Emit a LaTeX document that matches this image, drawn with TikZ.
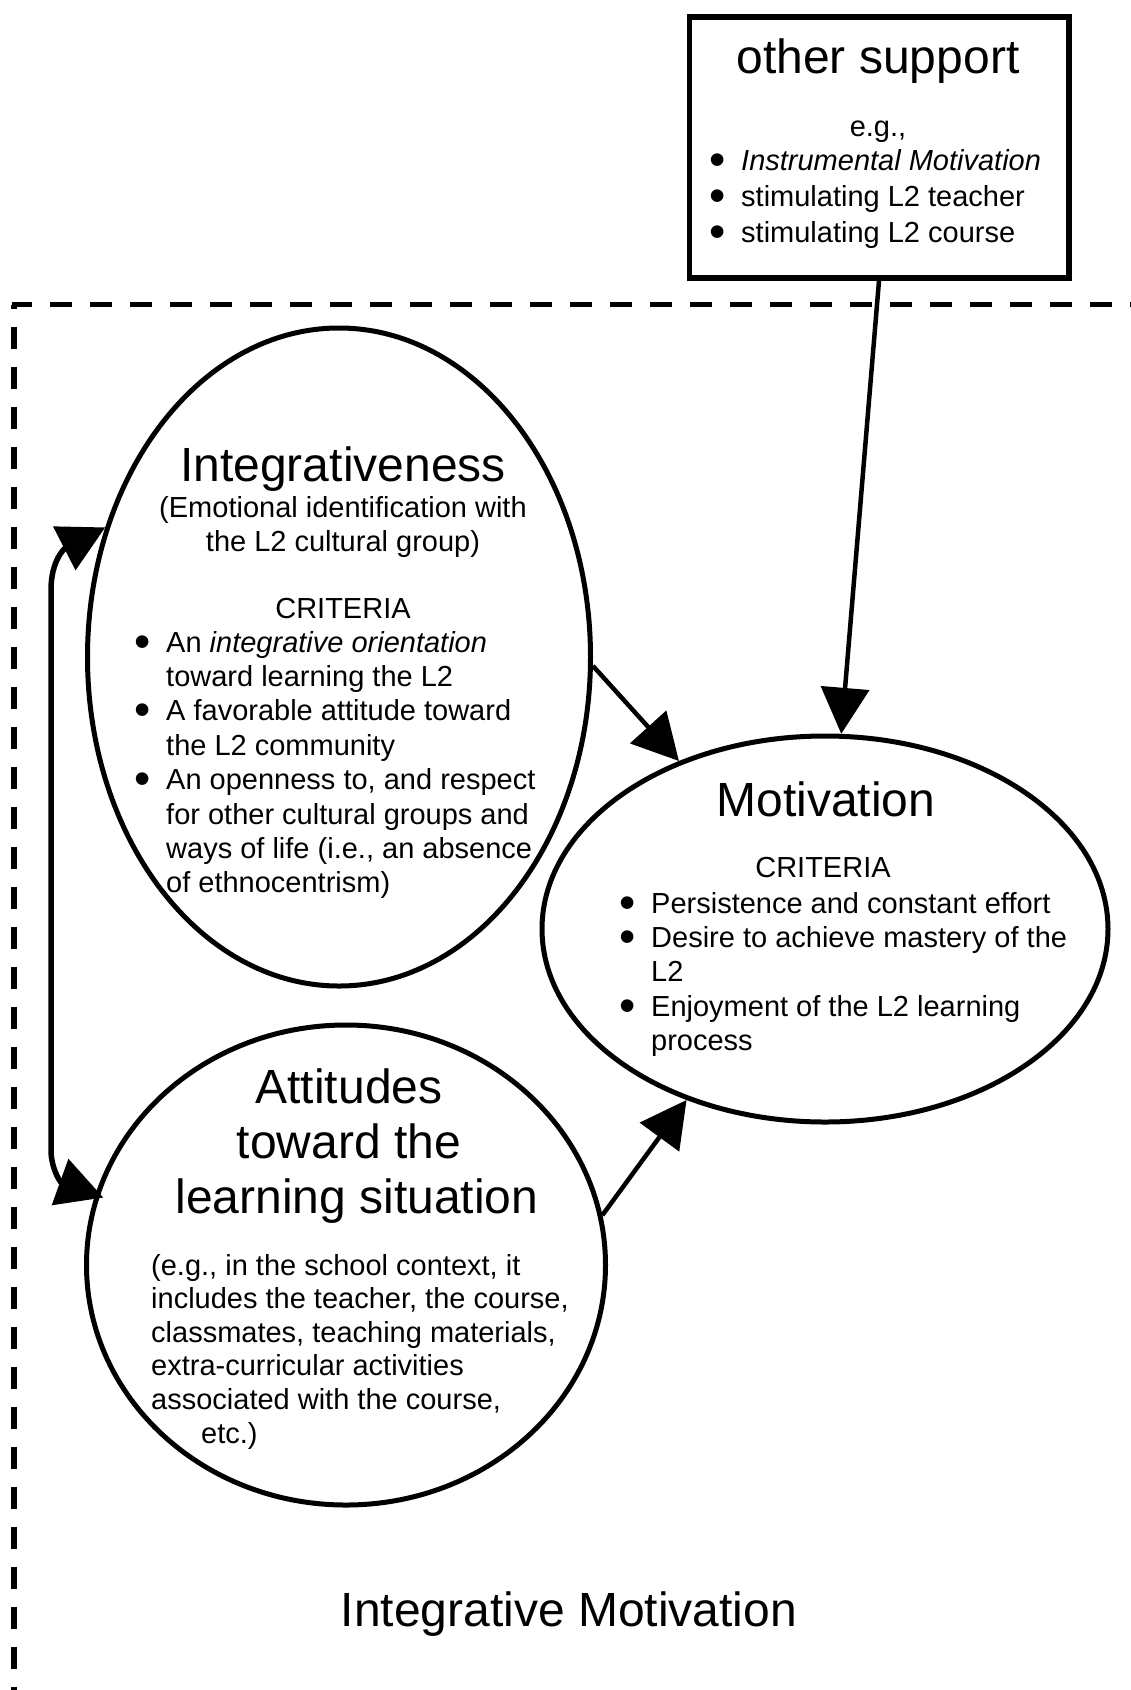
\documentclass[tikz,border=0pt]{standalone}
\usepackage{fontspec}
\setmainfont{Liberation Sans}
\usetikzlibrary{arrows.meta,shapes.geometric}

\newcommand\itemdot{\makebox[32pt][l]{\raisebox{-5pt}{\scalebox{1.6}{\textbullet}}}}
\newcommand\itemgap{\hspace*{32pt}}

\tikzset{
  oval/.style={draw, ellipse, line width=5pt, inner sep=0pt},
  big/.style={inner sep=0pt, font=\fontsize{48}{55}\selectfont},
  small/.style={inner sep=0pt, font=\fontsize{29}{34.4}\selectfont},
  bighead/.tip={Triangle[length=46pt,width=48pt]},
  link/.style={line width=4.5pt, -bighead},
}

\begin{document}
\begin{tikzpicture}[x=1pt,y=-1pt]
  \useasboundingbox (0,0) rectangle (1131,1690);

  \draw[line width=5.3pt, dash pattern=on 22.7pt off 17.3pt, dash phase=2pt] (11.5,304.5) -- (1131,304.5);
  \draw[line width=5.3pt, dash pattern=on 22.7pt off 17.3pt, dash phase=18pt] (14,304.5) -- (14,1690);

  \node[draw, line width=5.5pt, minimum width=379.5pt, minimum height=261pt] (sup) at (879,147.5) {};
  \node[oval, minimum width=503pt, minimum height=658pt] (int) at (339,657) {};
  \node[oval, minimum width=566pt, minimum height=386pt] (mot) at (825,929) {};
  \node[oval, minimum width=519pt, minimum height=480pt] (att) at (346,1265) {};

  \node[big, anchor=base] (suptitle) at (878,73) {other support};
  \node[small, anchor=base] (supeg) at (878,136) {e.g.,};
  \node[small, anchor=base west] (suplist) at (709,170.5) {\parbox[t]{340pt}{\baselineskip=36pt
    \itemdot\textit{Instrumental Motivation}\\
    \itemdot stimulating L2 teacher\\
    \itemdot stimulating L2 course}};

  \node[big, anchor=base] (inttitle) at (343,481) {Integrativeness};
  \node[small, anchor=base] (intsub) at (343,517) {\parbox[t]{460pt}{\centering
    (Emotional identification with\\the L2 cultural group)}};
  \node[small, anchor=base] (intcrit) at (343,618) {CRITERIA};
  \node[small, anchor=base west] (intlist) at (134,652) {\parbox[t]{460pt}{
    \itemdot An \textit{integrative orientation}\\
    \itemgap toward learning the L2\\
    \itemdot A favorable attitude toward\\
    \itemgap the L2 community\\
    \itemdot An openness to, and respect\\
    \itemgap for other cultural groups and\\
    \itemgap ways of life (i.e., an absence\\
    \itemgap of ethnocentrism)}};

  \node[big, anchor=base] (mottitle) at (826,816) {Motivation};
  \node[small, anchor=base] (motcrit) at (823,877) {CRITERIA};
  \node[small, anchor=base west] (motlist) at (619,913) {\parbox[t]{460pt}{
    \itemdot Persistence and constant effort\\
    \itemdot Desire to achieve mastery of the\\
    \itemgap L2\\
    \itemdot Enjoyment of the L2 learning\\
    \itemgap process}};

  \node[big, anchor=base] (atttitle) at (349,1103) {\parbox[t]{500pt}{\centering
    Attitudes\\toward the\hspace*{14pt}\\\hspace*{16pt}learning situation}};
  \node[small, anchor=base west] (atttext) at (151,1275) {\parbox[t]{460pt}{\baselineskip=33.6pt
    (e.g., in the school context, it\\
    includes the teacher, the course,\\
    classmates, teaching materials,\\
    extra-curricular activities\\
    associated with the course,\\
    \hspace*{50pt}etc.)}};

  \node[big, anchor=base] (caption) at (569,1626) {Integrative Motivation};

  \draw[link] (sup.south) -- (mot);
  \draw[link] (int.-2) -- (mot.131);
  \draw[link] (att.11) -- (mot.231);
  \draw[line width=5.5pt, bighead-bighead]
    (int.151) .. controls (65,548) and (51,560) .. (51,590) -- (51,1150)
    .. controls (51,1168) and (60,1182) .. ([shift={(9,0)}]att.165);
\end{tikzpicture}
\end{document}
